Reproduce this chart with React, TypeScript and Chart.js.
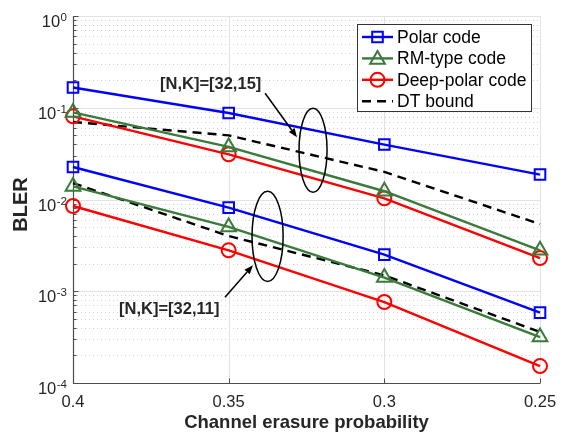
import React, { useEffect, useRef } from 'react';
import { Chart, registerables } from 'chart.js';
Chart.register(...registerables);

// ---------- data ----------
const erasureProb = [0.4, 0.35, 0.3, 0.25];
const polar15 = [0.166, 0.0877, 0.0397, 0.0187];
const rm15 = [0.089, 0.0374, 0.0123, 0.00279];
const deep15 = [0.0807, 0.0311, 0.0103, 0.0023];
const dt15 = [0.07, 0.05, 0.02, 0.0054];
const polar11 = [0.0226, 0.00816, 0.00251, 0.000585];
const rm11 = [0.0139, 0.00502, 0.00141, 0.000317];
const deep11 = [0.0085, 0.00279, 0.000763, 0.000153];
const dt11 = [0.0151, 0.004, 0.00149, 0.00036];

const xTickValues = [0.4, 0.35, 0.3, 0.25];
const xTickLabels = ['0.4', '0.35', '0.3', '0.25'];
const yTickExponents = [0, -1, -2, -3, -4];
const legendLabels = ['Polar code', 'RM-type code', 'Deep-polar code', 'DT bound'];
const annotationTexts = ['[N,K]=[32,15]', '[N,K]=[32,11]'];

const BLUE = '#0000ff';
const GREEN = '#3a7a3a';
const RED = '#ff0000';
const BLACK = '#000000';
const FONT = '"Liberation Sans", Arial, Helvetica, sans-serif';
const TXT = '#262626';
const LW = 2.4;

const toPts = (ys: number[]) => erasureProb.map((x, i) => ({ x, y: ys[i] }));

function mkSet(data: number[], color: string, style: any, radius: number, dashed = false) {
  return {
    data: toPts(data),
    borderColor: color,
    backgroundColor: 'rgba(0,0,0,0)',
    borderWidth: LW,
    borderDash: dashed ? [9, 6] : [],
    pointStyle: style,
    pointRadius: dashed ? 0 : radius,
    pointHoverRadius: dashed ? 0 : radius,
    pointBorderWidth: 2,
    pointBorderColor: color,
    pointBackgroundColor: 'rgba(0,0,0,0)',
    tension: 0,
    clip: false as any,
    fill: false,
  };
}

function drawMarker(ctx: CanvasRenderingContext2D, style: string, cx: number, cy: number, r: number, color: string) {
  ctx.save();
  ctx.strokeStyle = color;
  ctx.lineWidth = 2;
  ctx.setLineDash([]);
  ctx.beginPath();
  if (style === 'rect') {
    const s = Math.SQRT1_2 * r;
    ctx.rect(cx - s, cy - s, 2 * s, 2 * s);
  } else if (style === 'triangle') {
    for (let k = 0; k < 3; k++) {
      const ang = (k * 2 * Math.PI) / 3;
      const px = cx + Math.sin(ang) * r;
      const py = cy - Math.cos(ang) * r;
      if (k === 0) ctx.moveTo(px, py);
      else ctx.lineTo(px, py);
    }
    ctx.closePath();
  } else {
    ctx.arc(cx, cy, r, 0, Math.PI * 2);
  }
  ctx.stroke();
  ctx.restore();
}

// annotation geometry in data coordinates
const ellipse15 = { x: 0.3229, halfW: 0.0045, yTop: 0.0986, yBottom: 0.012 };
const ellipse11 = { x: 0.3375, halfW: 0.005, yTop: 0.01228, yBottom: 0.00128 };
const arrow15 = { x1: 0.3383, y1: 0.1438, x2: 0.32805, y2: 0.0476 };
const arrow11 = { x1: 0.35118, y1: 0.000859, x2: 0.34218, y2: 0.00192 };
const text15 = { x: 0.37206, y: 0.159 };
const text11 = { x: 0.38522, y: 0.000561 };

const overlay = {
  id: 'overlay',
  beforeDatasetsDraw(chart: any) {
    const { ctx, chartArea: a, scales } = chart;
    const x = scales.x, y = scales.y;
    ctx.save();
    // minor grid (dotted)
    ctx.lineWidth = 1;
    ctx.strokeStyle = '#d2d2d2';
    ctx.setLineDash([1, 3]);
    for (let e = -4; e < 0; e++) {
      for (let m = 2; m <= 9; m++) {
        const py = Math.round(y.getPixelForValue(m * Math.pow(10, e))) + 0.5;
        ctx.beginPath();
        ctx.moveTo(a.left, py);
        ctx.lineTo(a.right, py);
        ctx.stroke();
      }
    }
    // major grid
    ctx.setLineDash([]);
    ctx.strokeStyle = '#e2e2e2';
    yTickExponents.forEach((e) => {
      const py = Math.round(y.getPixelForValue(Math.pow(10, e))) + 0.5;
      ctx.beginPath();
      ctx.moveTo(a.left, py);
      ctx.lineTo(a.right, py);
      ctx.stroke();
    });
    xTickValues.forEach((v) => {
      const px = Math.round(x.getPixelForValue(v)) + 0.5;
      ctx.beginPath();
      ctx.moveTo(px, a.top);
      ctx.lineTo(px, a.bottom);
      ctx.stroke();
    });
    // axes
    ctx.strokeStyle = '#4d4d4d';
    ctx.lineWidth = 1.2;
    const L = Math.round(a.left) + 0.5;
    const B = Math.round(a.bottom) + 0.5;
    ctx.beginPath();
    ctx.moveTo(L, a.top);
    ctx.lineTo(L, B);
    ctx.lineTo(a.right, B);
    ctx.stroke();
    // ticks (inward)
    ctx.lineWidth = 1;
    for (let e = -4; e <= 0; e++) {
      const py = Math.round(y.getPixelForValue(Math.pow(10, e))) + 0.5;
      ctx.beginPath();
      ctx.moveTo(L, py);
      ctx.lineTo(L + 5, py);
      ctx.stroke();
      if (e < 0) {
        for (let m = 2; m <= 9; m++) {
          const pm = Math.round(y.getPixelForValue(m * Math.pow(10, e))) + 0.5;
          ctx.beginPath();
          ctx.moveTo(L, pm);
          ctx.lineTo(L + 3, pm);
          ctx.stroke();
        }
      }
    }
    xTickValues.forEach((v) => {
      const px = Math.round(x.getPixelForValue(v)) + 0.5;
      ctx.beginPath();
      ctx.moveTo(px, B);
      ctx.lineTo(px, B - 5);
      ctx.stroke();
    });
    ctx.restore();
  },
  afterDatasetsDraw(chart: any) {
    const { ctx, chartArea: a, scales } = chart;
    const x = scales.x, y = scales.y;
    ctx.save();
    // ---- tick labels ----
    ctx.fillStyle = TXT;
    ctx.font = `16.5px ${FONT}`;
    ctx.textAlign = 'center';
    ctx.textBaseline = 'alphabetic';
    xTickValues.forEach((v, i) => {
      ctx.fillText(xTickLabels[i], x.getPixelForValue(v), a.bottom + 24);
    });
    yTickExponents.forEach((e) => {
      const py = y.getPixelForValue(Math.pow(10, e));
      const exp = String(e);
      ctx.font = `11.5px ${FONT}`;
      const ew = ctx.measureText(exp).width;
      const right = a.left - 6;
      ctx.textAlign = 'left';
      ctx.fillText(exp, right - ew, py + 5);
      ctx.font = `16.5px ${FONT}`;
      ctx.textAlign = 'right';
      ctx.fillText('10', right - ew - 0.5, py + 11);
    });
    // ---- axis titles ----
    ctx.font = `bold 18.5px ${FONT}`;
    ctx.textAlign = 'center';
    ctx.fillStyle = TXT;
    ctx.fillText('Channel erasure probability', (a.left + a.right) / 2, a.bottom + 45);
    ctx.save();
    ctx.translate(27, (a.top + a.bottom) / 2 + 5);
    ctx.rotate(-Math.PI / 2);
    ctx.font = `bold 20px ${FONT}`;
    ctx.fillText('BLER', 0, 0);
    ctx.restore();

    // ---- annotations ----
    ctx.strokeStyle = BLACK;
    ctx.fillStyle = BLACK;
    ctx.lineWidth = 1.5;
    [ellipse15, ellipse11].forEach((el) => {
      const cx = x.getPixelForValue(el.x);
      const rx = Math.abs(x.getPixelForValue(el.x + el.halfW) - cx);
      const t = y.getPixelForValue(el.yTop);
      const b = y.getPixelForValue(el.yBottom);
      ctx.beginPath();
      ctx.ellipse(cx, (t + b) / 2, rx, (b - t) / 2, 0, 0, Math.PI * 2);
      ctx.stroke();
    });
    [arrow15, arrow11].forEach((ar) => {
      const x1 = x.getPixelForValue(ar.x1), y1 = y.getPixelForValue(ar.y1);
      const x2 = x.getPixelForValue(ar.x2), y2 = y.getPixelForValue(ar.y2);
      const ang = Math.atan2(y2 - y1, x2 - x1);
      const hl = 9, hw = 3.5;
      const bx = x2 - Math.cos(ang) * hl, by = y2 - Math.sin(ang) * hl;
      ctx.beginPath();
      ctx.moveTo(x1, y1);
      ctx.lineTo(bx, by);
      ctx.stroke();
      ctx.beginPath();
      ctx.moveTo(x2, y2);
      ctx.lineTo(bx - Math.sin(ang) * hw, by + Math.cos(ang) * hw);
      ctx.lineTo(bx + Math.sin(ang) * hw, by - Math.cos(ang) * hw);
      ctx.closePath();
      ctx.fill();
    });
    ctx.font = `bold 16.5px ${FONT}`;
    ctx.textAlign = 'left';
    ctx.fillStyle = TXT;
    [text15, text11].forEach((tp, i) => {
      ctx.fillText(annotationTexts[i], x.getPixelForValue(tp.x), y.getPixelForValue(tp.y));
    });

    // ---- legend ----
    const lx = a.right - 183, ly = a.top + 8, lw = 174, lh = 87;
    ctx.fillStyle = '#ffffff';
    ctx.fillRect(lx, ly, lw, lh);
    ctx.strokeStyle = '#333333';
    ctx.lineWidth = 1;
    ctx.strokeRect(Math.round(lx) + 0.5, Math.round(ly) + 0.5, lw, lh);
    const items = [
      { c: BLUE, s: 'rect', r: 7.5, d: false },
      { c: GREEN, s: 'triangle', r: 8.5, d: false },
      { c: RED, s: 'circle', r: 7, d: false },
      { c: BLACK, s: '', r: 0, d: true },
    ];
    items.forEach((it, i) => {
      const ry = ly + 13 + i * 21.4;
      const x0 = lx + 5, x1 = lx + 36;
      ctx.strokeStyle = it.c;
      ctx.lineWidth = LW;
      ctx.setLineDash(it.d ? [9, 6] : []);
      ctx.beginPath();
      ctx.moveTo(x0, ry);
      ctx.lineTo(x1, ry);
      ctx.stroke();
      ctx.setLineDash([]);
      if (it.s) drawMarker(ctx, it.s, (x0 + x1) / 2, it.s === 'triangle' ? ry + 1 : ry, it.r, it.c);
      ctx.fillStyle = '#000000';
      ctx.font = `17.5px ${FONT}`;
      ctx.textBaseline = 'middle';
      ctx.textAlign = 'left';
      ctx.fillText(legendLabels[i], lx + 40, ry + 1);
      ctx.textBaseline = 'alphabetic';
    });
    ctx.restore();
  },
};

export default function App() {
  const ref = useRef<HTMLCanvasElement | null>(null);
  useEffect(() => {
    if (!ref.current) return;
    const chart = new Chart(ref.current, {
      type: 'line',
      data: {
        datasets: [
          mkSet(polar15, BLUE, 'rect', 7.5),
          mkSet(rm15, GREEN, 'triangle', 8.5),
          mkSet(deep15, RED, 'circle', 7),
          mkSet(dt15, BLACK, 'line', 0, true),
          mkSet(polar11, BLUE, 'rect', 7.5),
          mkSet(rm11, GREEN, 'triangle', 8.5),
          mkSet(deep11, RED, 'circle', 7),
          mkSet(dt11, BLACK, 'line', 0, true),
        ] as any,
      },
      options: {
        animation: false,
        responsive: false,
        events: [],
        layout: { padding: { left: 73, right: 22, top: 16, bottom: 51 } },
        plugins: { legend: { display: false }, tooltip: { enabled: false } },
        scales: {
          x: { type: 'linear', min: 0.25, max: 0.4, reverse: true, display: false },
          y: { type: 'logarithmic', min: 1e-4, max: 1, display: false },
        },
      },
      plugins: [overlay],
    });
    return () => chart.destroy();
  }, []);
  return (
    <div style={{ position: 'absolute', left: 0, top: 0, width: 562, height: 434, background: '#fff' }}>
      <canvas ref={ref} width={562} height={434} style={{ display: 'block' }} />
    </div>
  );
}
